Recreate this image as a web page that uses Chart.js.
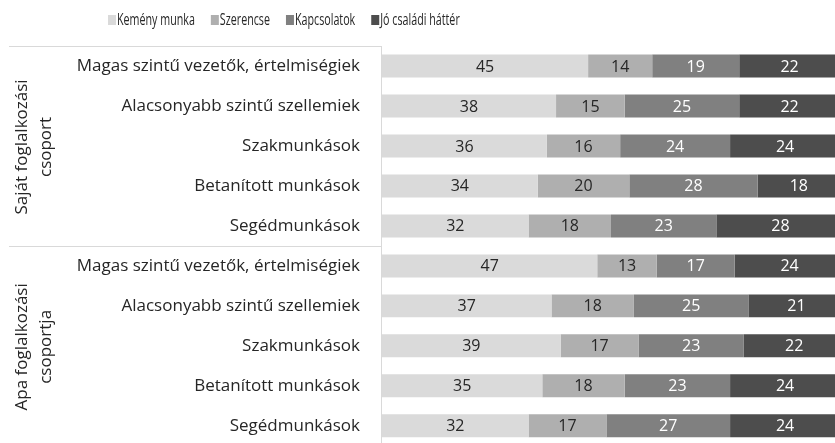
<!DOCTYPE html>
<html>
<head>
<meta charset="utf-8">
<script src="https://cdn.jsdelivr.net/npm/chart.js@4.4.1/dist/chart.umd.min.js"></script>
<style>
  html, body { margin: 0; padding: 0; overflow: hidden; background: #ffffff; }
  #frame { position: relative; width: 835px; height: 443px; overflow: hidden; }
  #frame canvas { position: absolute; left: 0; top: 0; display: block; }
</style>
</head>
<body>
<div id="frame"><canvas id="chart" width="840" height="470"></canvas></div>
<script>
// Occupation categories (two groups of five rows)
const categories = [
  'Magas szintű vezetők, értelmiségiek',
  'Alacsonyabb szintű szellemiek',
  'Szakmunkások',
  'Betanított munkások',
  'Segédmunkások',
  'Magas szintű vezetők, értelmiségiek',
  'Alacsonyabb szintű szellemiek',
  'Szakmunkások',
  'Betanított munkások',
  'Segédmunkások'
];
const groupLabels = [
  ['Saját foglalkozási', 'csoport'],
  ['Apa foglalkozási', 'csoportja']
];
const seriesNames = ['Kemény munka', 'Szerencse', 'Kapcsolatok', 'Jó családi háttér'];

// Share of answers (%) per factor
const kemenyMunka = [45, 38, 36, 34, 32, 47, 37, 39, 35, 32];
const szerencse   = [14, 15, 16, 20, 18, 13, 18, 17, 18, 17];
const kapcsolatok = [19, 25, 24, 28, 23, 17, 25, 23, 23, 27];
const csaladi     = [22, 22, 24, 18, 28, 24, 21, 22, 24, 24];

const colors = ['#dadada', '#afafaf', '#808080', '#4d4d4d'];
const labelColors = ['#262626', '#262626', '#ffffff', '#ffffff'];
const FONT = '"Open Sans", "Noto Sans", sans-serif';
const TEXT = '#262626';
const LINE = '#d9d9d9';

const seriesValues = [kemenyMunka, szerencse, kapcsolatok, csaladi];

// Legend drawn in a single row above the plot, in a narrow setting
const legendPlugin = {
  id: 'topLegend',
  afterDraw(chart) {
    const ctx = chart.ctx;
    ctx.save();
    ctx.font = '17px ' + FONT;
    ctx.textBaseline = 'middle';
    const squeeze = 0.63;
    let x = 108;
    const y = 20;
    chart.data.datasets.forEach((ds) => {
      ctx.fillStyle = ds.backgroundColor;
      ctx.fillRect(x, y - 5, 8, 10);
      x += 9;
      const w = ctx.measureText(ds.label).width * squeeze;
      ctx.save();
      ctx.translate(x, y);
      ctx.scale(squeeze, 1);
      ctx.fillStyle = TEXT;
      ctx.textAlign = 'left';
      ctx.fillText(ds.label, 0, 0);
      ctx.restore();
      x += w + 16;
    });
    ctx.restore();
  }
};

// Group frame lines and rotated group titles
const groupPlugin = {
  id: 'groups',
  afterDraw(chart) {
    const ctx = chart.ctx;
    const area = chart.chartArea;
    const yScale = chart.scales.y;
    const step = yScale.getPixelForValue(1) - yScale.getPixelForValue(0);
    ctx.save();
    ctx.strokeStyle = LINE;
    ctx.lineWidth = 1;
    // axis line
    ctx.beginPath();
    ctx.moveTo(area.left - 0.5, area.top);
    ctx.lineTo(area.left - 0.5, area.bottom);
    ctx.stroke();
    // top and separator lines
    [area.top, yScale.getPixelForValue(4) + step / 2].forEach(yy => {
      const py = Math.round(yy) + 0.5;
      ctx.beginPath();
      ctx.moveTo(9, py);
      ctx.lineTo(area.left, py);
      ctx.stroke();
    });
    // rotated group titles
    ctx.fillStyle = TEXT;
    ctx.font = '17px ' + FONT;
    ctx.textAlign = 'center';
    ctx.textBaseline = 'middle';
    groupLabels.forEach((lines, g) => {
      const cy = yScale.getPixelForValue(g * 5 + 2);
      lines.forEach((t, li) => {
        ctx.save();
        ctx.translate(22 + li * 24, cy + 1);
        ctx.rotate(-Math.PI / 2);
        ctx.fillText(t, 0, 0);
        ctx.restore();
      });
    });
    ctx.restore();
  }
};

// Value labels centred in each segment
const valuePlugin = {
  id: 'values',
  afterDatasetsDraw(chart) {
    const ctx = chart.ctx;
    ctx.save();
    ctx.font = '16px ' + FONT;
    ctx.textAlign = 'center';
    ctx.textBaseline = 'middle';
    chart.data.datasets.forEach((ds, di) => {
      const meta = chart.getDatasetMeta(di);
      meta.data.forEach((bar, i) => {
        const left = Math.min(bar.x, bar.base);
        const right = Math.max(bar.x, bar.base);
        ctx.fillStyle = labelColors[di];
        ctx.fillText(String(ds.data[i]), (left + right) / 2, bar.y + 1);
      });
    });
    ctx.restore();
  }
};

new Chart(document.getElementById('chart'), {
  type: 'bar',
  data: {
    labels: categories,
    datasets: seriesNames.map((name, i) => ({
      label: name,
      data: seriesValues[i],
      backgroundColor: colors[i],
      borderWidth: 0,
      categoryPercentage: 0.575,
      barPercentage: 1
    }))
  },
  options: {
    indexAxis: 'y',
    responsive: false,
    animation: false,
    layout: { padding: { top: 46, bottom: 1, left: 0, right: 0 } },
    plugins: {
      legend: { display: false },
      tooltip: { enabled: false }
    },
    scales: {
      x: {
        stacked: true,
        min: 0,
        max: 100,
        display: false
      },
      y: {
        stacked: true,
        grid: { display: false },
        border: { display: false },
        ticks: {
          color: TEXT,
          font: { family: FONT, size: 17 },
          padding: 14,
          autoSkip: false
        },
        afterFit(scale) { scale.width = 382; }
      }
    }
  },
  plugins: [legendPlugin, groupPlugin, valuePlugin]
});
</script>
</body>
</html>
